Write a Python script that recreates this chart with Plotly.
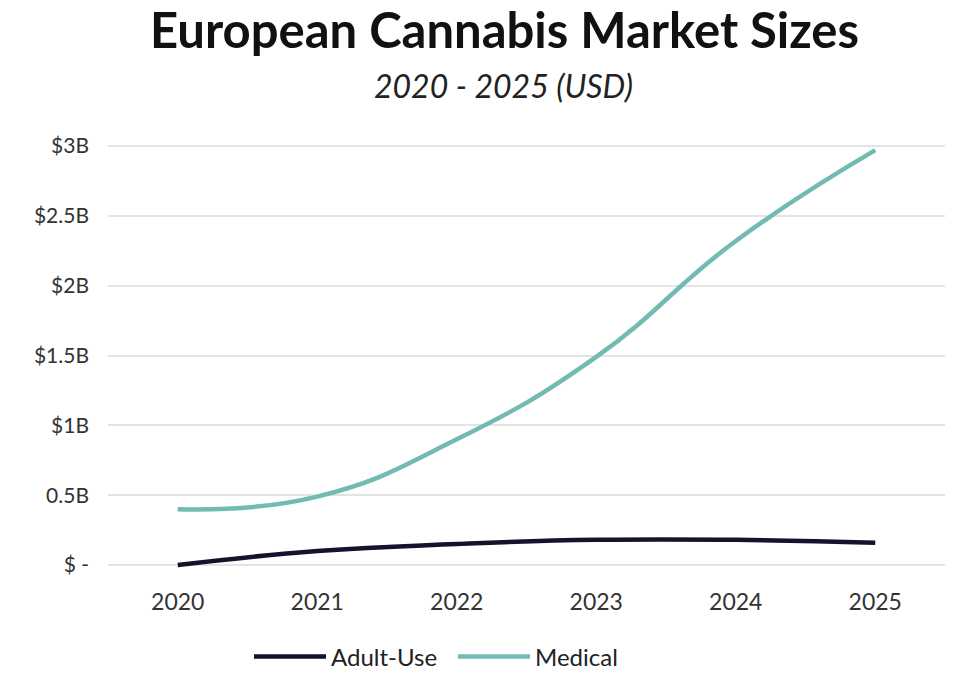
import plotly.graph_objects as go

years = ["2020", "2021", "2022", "2023", "2024", "2025"]
adult_use = [0.0, 0.10, 0.15, 0.18, 0.18, 0.16]
medical = [0.40, 0.49, 0.90, 1.49, 2.32, 2.97]

y_tickvals = [0, 0.5, 1, 1.5, 2, 2.5, 3]
y_ticktext = ["$ -", "0.5B", "$1B", "$1.5B", "$2B", "$2.5B", "$3B"]

FONT = "Lato"
M_T, M_B, M_L, M_R = 139, 121, 108, 15
PH = 693 - M_T - M_B
PW = 960 - M_L - M_R

def px_x(px):
    return (px - M_L) / PW

def px_y(px):
    return 1 + (M_T - px) / PH

fig = go.Figure()
fig.add_trace(go.Scatter(
    x=years, y=adult_use, name="Adult-Use", mode="lines",
    line=dict(color="#15122b", width=4.5, shape="spline", smoothing=1.3),
))
fig.add_trace(go.Scatter(
    x=years, y=medical, name="Medical", mode="lines",
    line=dict(color="#72bab2", width=4.5, shape="spline", smoothing=1.3),
))

fig.update_layout(
    width=960, height=693,
    margin=dict(l=M_L, r=M_R, t=M_T, b=M_B),
    paper_bgcolor="white", plot_bgcolor="white",
    font=dict(family=FONT, color="#333333", size=22),
    showlegend=True,
    legend=dict(orientation="h", x=px_x(249), xanchor="left", y=px_y(657), yanchor="middle",
                font=dict(size=24, color="#222222"), itemwidth=72, entrywidth=117,
                traceorder="normal"),
    annotations=[
        dict(text="<b>European Cannabis Market Sizes</b>", x=px_x(504), y=px_y(29),
             xref="paper", yref="paper", xanchor="center", yanchor="middle",
             showarrow=False, font=dict(size=49, color="#111111", family=FONT)),
        dict(text="<i>2020 - 2025 (USD)</i>", x=px_x(503), y=px_y(85),
             xref="paper", yref="paper", xanchor="center", yanchor="middle",
             showarrow=False, font=dict(size=32, color="#222222", family=FONT)),
    ],
)

fig.update_xaxes(type="category", range=[-0.5, 5.5], showgrid=False, showline=False,
                 zeroline=False, ticks="", ticklabelstandoff=14,
                 tickfont=dict(size=23, color="#333333"))
fig.update_yaxes(range=[-0.05, 3.05], tickvals=y_tickvals, ticktext=y_ticktext,
                 showgrid=True, gridcolor="#e4e4e4", gridwidth=2, zeroline=False,
                 showline=False, ticks="", ticklabelstandoff=18,
                 tickfont=dict(size=21, color="#333333"))

fig.write_html("out.html")
